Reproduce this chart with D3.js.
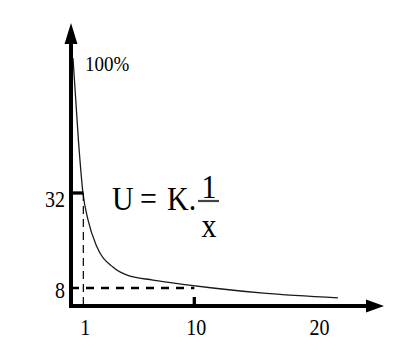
<!DOCTYPE html>
<html>
<head>
<meta charset="utf-8">
<script src="https://cdn.jsdelivr.net/npm/d3@7"></script>
<style>
  body { margin: 0; background: #fff; }
  text { font-family: "Liberation Serif", "DejaVu Serif", serif; fill: #000; }
</style>
</head>
<body>
<svg id="svg1" width="416" height="352"></svg>
<script>
"use strict";

// curve points: x and U (value axis)
let curveX = [0.16, 0.6, 0.97, 1.38, 2.1, 3.4, 4.5, 6.65, 9.4, 11.5, 15.6, 21.65];
let curveU = [66.1, 45.4, 32, 25.2, 18.4, 13.3, 11.3, 10.0, 8.8, 8.0, 6.7, 5.5];

// marked values and tick labels
let xTickLabels = [1, 10, 20];
let yTickLabels = [32, 8];
let markX = 1, markU = 32;      // dashed drop line from the 32 point
let levelX = 10, levelU = 8;    // dashed level line at 8
let topLabel = "100%";

let svg = d3.select("#svg1");

// plot frame
let left = 71, bottom = 306, axisTop = 23, axisRight = 384;

let x = d3.scaleLinear().domain([0, 20]).range([left, 317.6]);
let y = d3.scaleLinear().domain([8, 32]).range([288, 193]);

// curve U = K/x
let pts = curveX.map((d, i) => [d, curveU[i]]);
let line = d3.line().x(d => x(d[0])).y(d => y(d[1])).curve(d3.curveMonotoneX);
svg.append("path").attr("d", line(pts))
    .attr("fill", "none").attr("stroke", "#1a1a1a").attr("stroke-width", 1.3);

// dashed guide lines
svg.append("line")
    .attr("x1", x(markX)).attr("x2", x(markX))
    .attr("y1", y(markU)).attr("y2", bottom)
    .attr("stroke", "#000").attr("stroke-width", 1.2).attr("stroke-dasharray", "8,5");
svg.append("line")
    .attr("x1", left).attr("x2", x(levelX))
    .attr("y1", y(levelU)).attr("y2", y(levelU))
    .attr("stroke", "#000").attr("stroke-width", 2.6).attr("stroke-dasharray", "8,7");

// tick at 32 and tick at 10
svg.append("line")
    .attr("x1", left).attr("x2", x(markX))
    .attr("y1", y(markU)).attr("y2", y(markU))
    .attr("stroke", "#000").attr("stroke-width", 3.3);
svg.append("line")
    .attr("x1", x(levelX)).attr("x2", x(levelX))
    .attr("y1", bottom - 9).attr("y2", bottom)
    .attr("stroke", "#000").attr("stroke-width", 3.3);

// axes with arrowheads
svg.append("line").attr("x1", left).attr("x2", left)
    .attr("y1", bottom + 2).attr("y2", axisTop + 15)
    .attr("stroke", "#000").attr("stroke-width", 4);
svg.append("path")
    .attr("d", `M${left},${axisTop} L${left - 6.5},${axisTop + 21} L${left + 6.5},${axisTop + 21} Z`)
    .attr("fill", "#000");
svg.append("line").attr("x1", left - 2).attr("x2", axisRight - 12)
    .attr("y1", bottom).attr("y2", bottom)
    .attr("stroke", "#000").attr("stroke-width", 4);
svg.append("path")
    .attr("d", `M${axisRight},${bottom} L${axisRight - 18},${bottom - 6.5} L${axisRight - 18},${bottom + 6.5} Z`)
    .attr("fill", "#000");

// text helper: slightly tall serif like the scan
function label(tx, ty, str, size, anchor) {
    return svg.append("text")
        .attr("transform", `translate(${tx},${ty}) scale(1,1.12)`)
        .attr("text-anchor", anchor)
        .style("font-size", size + "px")
        .text(str);
}

// tick labels
xTickLabels.forEach(v => label(x(v) + 2, 335, v, 20, "middle"));
yTickLabels.forEach(v => label(65, y(v) + (v === 8 ? 10 : 14), v, 20, "end"));
label(85, 71, topLabel, 19, "start");

// formula U = K . 1/x
label(112, 210, "U", 30, "start");
label(148.5, 210, "=", 30, "middle");
label(167, 210, "K.", 30, "start");
label(209, 198, "1", 30, "middle");
label(209, 237, "x", 30, "middle");
svg.append("line").attr("x1", 198).attr("x2", 219)
    .attr("y1", 201).attr("y2", 201)
    .attr("stroke", "#444").attr("stroke-width", 2.2);
</script>
</body>
</html>
